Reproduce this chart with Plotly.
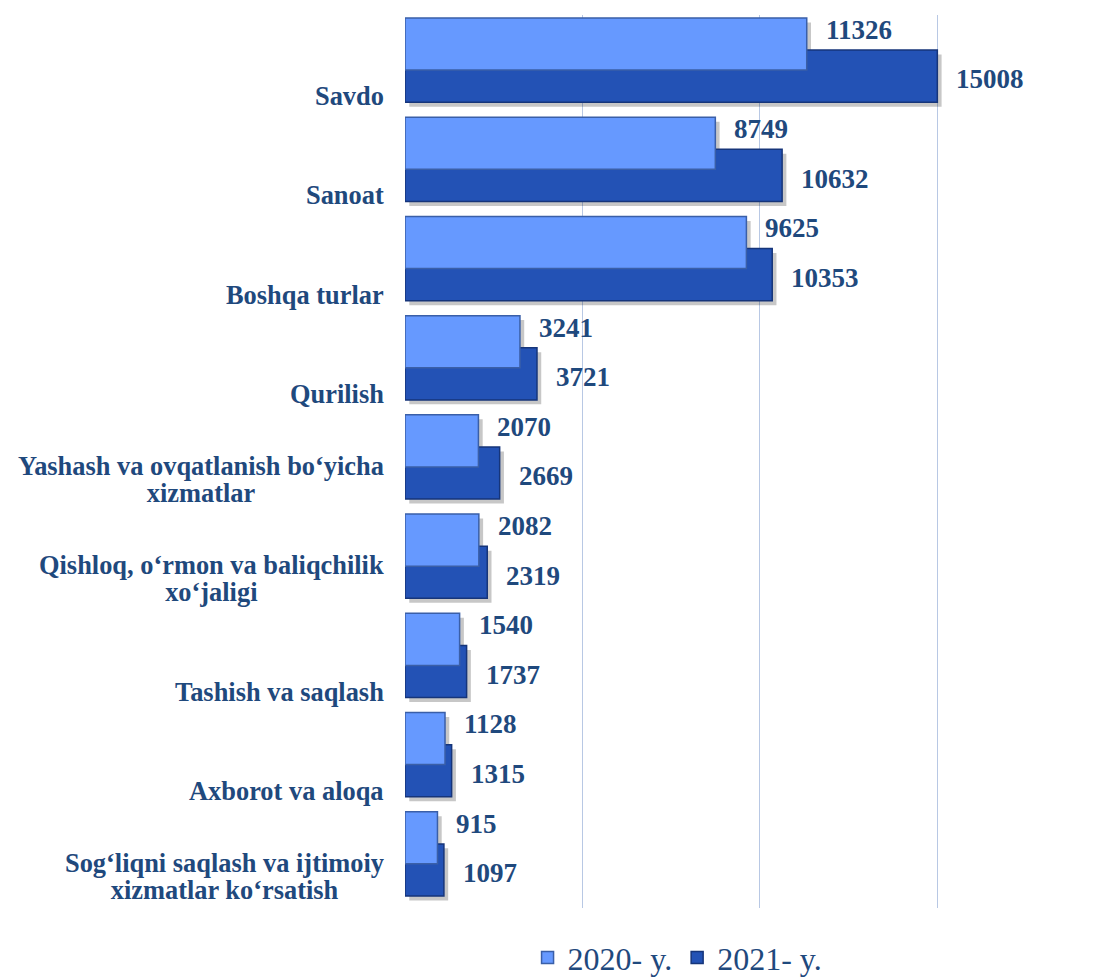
import plotly.graph_objects as go

categories = [
    "Savdo",
    "Sanoat",
    "Boshqa turlar",
    "Qurilish",
    "Yashash va ovqatlanish bo‘yicha<br>xizmatlar",
    "Qishloq, o‘rmon va baliqchilik<br>xo‘jaligi",
    "Tashish va saqlash",
    "Axborot va aloqa",
    "Sog‘liqni saqlash va ijtimoiy<br>xizmatlar ko‘rsatish",
]
values_2020 = [11326, 8749, 9625, 3241, 2070, 2082, 1540, 1128, 915]
values_2021 = [15008, 10632, 10353, 3721, 2669, 2319, 1737, 1315, 1097]
series_names = ["2020- y.", "2021- y."]

pos = list(range(len(categories)))
TXT = "#1F497D"
C20 = "#6699FF"
C21 = "#2352B5"
FONT = "Liberation Serif"

fig = go.Figure()

# soft shadows
for vals, off in [(values_2021, -0.146), (values_2020, -0.47)]:
    fig.add_trace(go.Bar(
        y=pos, x=vals, base=120, orientation="h", offset=off + 0.045, width=0.525,
        marker=dict(color="rgba(0,0,0,0.22)", line=dict(width=0)),
        showlegend=False, hoverinfo="skip"))

fig.add_trace(go.Bar(
    y=pos, x=values_2021, orientation="h", name=series_names[1],
    offset=-0.146, width=0.525, legendrank=2,
    marker=dict(color=C21, line=dict(color="#16357A", width=1.5))))
fig.add_trace(go.Bar(
    y=pos, x=values_2020, orientation="h", name=series_names[0],
    offset=-0.47, width=0.525, legendrank=1,
    marker=dict(color=C20, line=dict(color="#3A5FA8", width=1.5))))

ann = []
for i, c in enumerate(categories):
    lines = c.split("<br>")
    txt = "<br>".join('<b><span style="font-size:26.4px">%s</span></b>' % l for l in lines)
    ann.append(dict(x=0, y=i + 0.5, xref="x", yref="y", text=txt,
                    xanchor="right", yanchor="bottom", xshift=-20, yshift=2,
                    align="center", showarrow=False, borderpad=0,
                    font=dict(family=FONT, size=21, color=TXT)))
    ann.append(dict(x=values_2020[i], y=i - 0.35, xref="x", yref="y",
                    text="<b>%d</b>" % values_2020[i], xanchor="left", yanchor="middle",
                    xshift=17, showarrow=False, font=dict(family=FONT, size=27, color=TXT)))
    ann.append(dict(x=values_2021[i], y=i + 0.15, xref="x", yref="y",
                    text="<b>%d</b>" % values_2021[i], xanchor="left", yanchor="middle",
                    xshift=17, showarrow=False, font=dict(family=FONT, size=27, color=TXT)))

fig.update_layout(
    width=1105, height=980,
    margin=dict(l=397, r=105, t=7, b=80),
    barmode="overlay",
    plot_bgcolor="white", paper_bgcolor="white",
    annotations=ann,
    showlegend=True,
    legend=dict(orientation="h", x=0.452, xref="paper", xanchor="center",
                yref="container", y=0.031, yanchor="middle",
                font=dict(family=FONT, size=32, color=TXT), itemwidth=30,
                traceorder="normal"),
    xaxis=dict(range=[0, 17000], tickvals=[0, 5000, 10000, 15000], showticklabels=False,
               showgrid=True, gridcolor="#B8C8E4", gridwidth=1, zeroline=False,
               showline=False, fixedrange=True),
    yaxis=dict(range=[8.5, -0.5], showticklabels=False, showgrid=False,
               zeroline=False, showline=False),
)
fig.write_html("out.html")
